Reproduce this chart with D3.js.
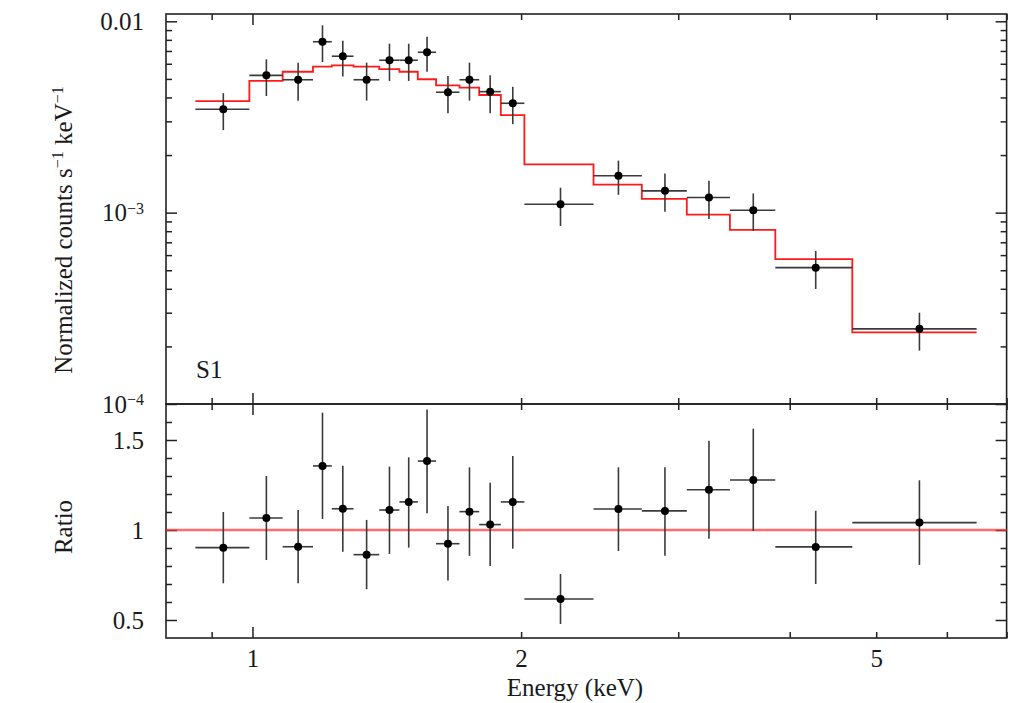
<!DOCTYPE html>
<html><head><meta charset="utf-8">
<script src="https://cdn.jsdelivr.net/npm/d3@7"></script>
<style>
html,body{margin:0;padding:0;background:#fff;}
svg{display:block;}
</style></head><body>
<svg id="c" width="1009" height="703"></svg>
<script>
// ---------------- data ----------------
const binEdges = [0.863, 0.992, 1.081, 1.169, 1.227, 1.298, 1.387, 1.461, 1.532, 1.606, 1.706,
                  1.795, 1.898, 2.017, 2.411, 2.731, 3.067, 3.428, 3.854, 4.701, 6.479];
const counts   = [3.47e-3, 5.22e-3, 4.95e-3, 7.82e-3, 6.57e-3, 4.95e-3, 6.26e-3, 6.26e-3, 6.89e-3, 4.26e-3,
                  4.95e-3, 4.29e-3, 3.73e-3, 1.106e-3, 1.56e-3, 1.30e-3, 1.20e-3, 1.03e-3, 5.16e-4, 2.47e-4];
const countsLo = [2.70e-3, 4.07e-3, 3.85e-3, 6.13e-3, 5.14e-3, 3.85e-3, 4.88e-3, 4.88e-3, 5.45e-3, 3.31e-3,
                  3.85e-3, 3.31e-3, 2.90e-3, 0.852e-3, 1.24e-3, 1.01e-3, 0.927e-3, 0.802e-3, 3.99e-4, 1.90e-4];
const countsHi = [4.21e-3, 6.33e-3, 6.08e-3, 9.53e-3, 7.92e-3, 6.08e-3, 7.64e-3, 7.64e-3, 8.31e-3, 5.18e-3,
                  6.08e-3, 5.22e-3, 4.55e-3, 1.35e-3, 1.87e-3, 1.60e-3, 1.47e-3, 1.26e-3, 6.31e-4, 3.00e-4];
const model    = [3.83e-3, 4.88e-3, 5.45e-3, 5.79e-3, 5.89e-3, 5.79e-3, 5.63e-3, 5.45e-3, 4.98e-3, 4.63e-3,
                  4.50e-3, 4.12e-3, 3.23e-3, 1.79e-3, 1.40e-3, 1.18e-3, 0.976e-3, 0.812e-3, 5.71e-4, 2.37e-4];
const ratio    = [0.902, 1.067, 0.907, 1.356, 1.118, 0.863, 1.111, 1.156, 1.383, 0.924,
                  1.102, 1.030, 1.156, 0.617, 1.117, 1.106, 1.224, 1.278, 0.906, 1.041];
const ratioLo  = [0.704, 0.833, 0.704, 1.061, 0.879, 0.671, 0.867, 0.902, 1.093, 0.719,
                  0.856, 0.800, 0.896, 0.478, 0.883, 0.857, 0.952, 0.994, 0.700, 0.806];
const ratioHi  = [1.100, 1.300, 1.111, 1.652, 1.357, 1.056, 1.352, 1.404, 1.670, 1.133,
                  1.348, 1.263, 1.411, 0.756, 1.348, 1.348, 1.496, 1.563, 1.107, 1.276];

const xMajorTicks = [1];
const xMinorTicks = [0.9, 2, 3, 4, 5, 6, 7];
const xTickLabels = [1, 2, 5];
const yTopMajorTicks = [1e-4, 1e-3, 1e-2];
const yTopMinorTicks = [2e-4,3e-4,4e-4,5e-4,6e-4,7e-4,8e-4,9e-4,2e-3,3e-3,4e-3,5e-3,6e-3,7e-3,8e-3,9e-3];
const yTopLabelBase = ["10", "10", "0.01"];
const yTopLabelExp  = ["−4", "−3", ""];
const ratioMajorTicks = [0.5, 1, 1.5];
const ratioMinorTicks = [0.6, 0.7, 0.8, 0.9, 1.1, 1.2, 1.3, 1.4, 1.6];
const ratioTickLabels = ["0.5", "1", "1.5"];
const panelLabel = "S1";
const xTitle = "Energy (keV)";
const ratioTitle = "Ratio";

// ---------------- layout ----------------
const FONT = "Liberation Serif";
const L = 166, R = 1006.6, T = 14, M = 404, B = 638;
const svg = d3.select("#c").style("font-family", FONT);
const x = d3.scaleLog().domain([0.8, 7]).range([L, R]);
const yTop = d3.scaleLog().domain([1e-4, 0.01092]).range([M, T]);
const yBot = d3.scaleLinear().domain([0.4, 1.7]).range([B, M]);

const FS = 25, MAJ = 11, MIN = 6;
const axisColor = "#222";
const textColor = "#1a1a1a";

function styleAxis(g) {
  g.attr("font-family", null).attr("font-size", null);
  g.select(".domain").remove();
  g.selectAll(".tick line").attr("stroke", axisColor).attr("stroke-width", 1.5);
  g.selectAll(".tick text").style("font-family", FONT).style("font-size", FS + "px").attr("fill", textColor);
}
function addAxis(gen, tx, ty) {
  const g = svg.append("g").attr("transform", `translate(${tx},${ty})`).call(gen);
  styleAxis(g);
  return g;
}
function addText(sel, size) {
  return sel.append("text").style("font-family", FONT).style("font-size", size + "px").attr("fill", textColor);
}

// x-axis ticks on all four horizontal frame lines
[[d3.axisTop, T], [d3.axisBottom, M], [d3.axisTop, M], [d3.axisBottom, B]].forEach(([ax, yy]) => {
  addAxis(ax(x).tickValues(xMajorTicks).tickSize(-MAJ).tickFormat(""), 0, yy);
  addAxis(ax(x).tickValues(xMinorTicks).tickSize(-MIN).tickFormat(""), 0, yy);
});
// x tick labels
const xl = addAxis(d3.axisBottom(x).tickValues(xTickLabels).tickSize(0).tickPadding(11).tickFormat(d3.format("d")), 0, B);
xl.selectAll(".tick line").remove();

// top panel y ticks
addAxis(d3.axisLeft(yTop).tickValues(yTopMajorTicks).tickSize(-MAJ).tickFormat(""), L, 0);
addAxis(d3.axisLeft(yTop).tickValues(yTopMinorTicks).tickSize(-MIN).tickFormat(""), L, 0);
addAxis(d3.axisRight(yTop).tickValues(yTopMajorTicks).tickSize(-MAJ).tickFormat(""), R, 0);
addAxis(d3.axisRight(yTop).tickValues(yTopMinorTicks).tickSize(-MIN).tickFormat(""), R, 0);
const ytl = addAxis(d3.axisLeft(yTop).tickValues(yTopMajorTicks).tickSize(0).tickPadding(22).tickFormat(""), L, 0);
ytl.selectAll(".tick text").each(function(d, i) {
  const t = d3.select(this).attr("dy", "0.32em");
  t.append("tspan").text(yTopLabelBase[i]);
  if (yTopLabelExp[i]) t.append("tspan").style("font-size", "16px").attr("dy", "-0.45em").text(yTopLabelExp[i]);
});

// ratio panel y ticks
addAxis(d3.axisLeft(yBot).tickValues(ratioMajorTicks).tickSize(-MAJ).tickFormat(""), L, 0);
addAxis(d3.axisLeft(yBot).tickValues(ratioMinorTicks).tickSize(-MIN).tickFormat(""), L, 0);
addAxis(d3.axisRight(yBot).tickValues(ratioMajorTicks).tickSize(-MAJ).tickFormat(""), R, 0);
addAxis(d3.axisRight(yBot).tickValues(ratioMinorTicks).tickSize(-MIN).tickFormat(""), R, 0);
addAxis(d3.axisLeft(yBot).tickValues(ratioMajorTicks).tickSize(0).tickPadding(22)
  .tickFormat((d, i) => ratioTickLabels[i]), L, 0);

// frames
svg.append("rect").attr("x", L).attr("y", T).attr("width", R - L).attr("height", M - T)
  .attr("fill", "none").attr("stroke", axisColor).attr("stroke-width", 1.6);
svg.append("rect").attr("x", L).attr("y", M).attr("width", R - L).attr("height", B - M)
  .attr("fill", "none").attr("stroke", axisColor).attr("stroke-width", 1.6);

// ---------------- marks ----------------
const bins = counts.map((c, i) => ({
  lo: binEdges[i], hi: binEdges[i + 1], mid: (binEdges[i] + binEdges[i + 1]) / 2,
  c, cLo: countsLo[i], cHi: countsHi[i], m: model[i],
  r: ratio[i], rLo: ratioLo[i], rHi: ratioHi[i]
}));

// model step line
const stepPts = [];
bins.forEach(b => { stepPts.push([b.lo, b.m]); stepPts.push([b.hi, b.m]); });
svg.append("path").attr("d", d3.line().x(p => x(p[0])).y(p => yTop(p[1]))(stepPts))
  .attr("fill", "none").attr("stroke", "#ff1a1a").attr("stroke-width", 1.8);

// ratio = 1 line
svg.append("line").attr("x1", L).attr("x2", R).attr("y1", yBot(1)).attr("y2", yBot(1))
  .attr("stroke", "#ff3030").attr("stroke-opacity", 0.7).attr("stroke-width", 2.4);

const errColor = "#3a3a3a";
function drawErr(g, yScale, val, lo, hi) {
  g.selectAll(null).data(bins).join("line")
    .attr("x1", b => x(b.lo)).attr("x2", b => x(b.hi))
    .attr("y1", b => yScale(b[val])).attr("y2", b => yScale(b[val]))
    .attr("stroke", errColor).attr("stroke-width", 1.6);
  g.selectAll(null).data(bins).join("line")
    .attr("x1", b => x(b.mid)).attr("x2", b => x(b.mid))
    .attr("y1", b => yScale(b[lo])).attr("y2", b => yScale(b[hi]))
    .attr("stroke", errColor).attr("stroke-width", 1.6);
  g.selectAll(null).data(bins).join("circle")
    .attr("cx", b => x(b.mid)).attr("cy", b => yScale(b[val])).attr("r", 4)
    .attr("fill", "#000");
}
drawErr(svg.append("g"), yTop, "c", "cLo", "cHi");
drawErr(svg.append("g"), yBot, "r", "rLo", "rHi");

// ---------------- titles ----------------
addText(svg, FS).attr("x", 196).attr("y", 378).text(panelLabel);
addText(svg, FS).attr("x", 575).attr("y", 696).attr("text-anchor", "middle").text(xTitle);
addText(svg, FS).attr("transform", `translate(72,${yBot(1) - 3}) rotate(-90)`)
  .attr("text-anchor", "middle").text(ratioTitle);
const yt = addText(svg, FS).attr("transform", `translate(72,${(T + M) / 2 + 21}) rotate(-90)`)
  .attr("text-anchor", "middle");
yt.append("tspan").text("Normalized counts s");
yt.append("tspan").style("font-size", "16px").attr("dy", -9).text("−1");
yt.append("tspan").attr("dy", 9).text(" keV");
yt.append("tspan").style("font-size", "16px").attr("dy", -9).text("−1");
</script>
</body></html>
